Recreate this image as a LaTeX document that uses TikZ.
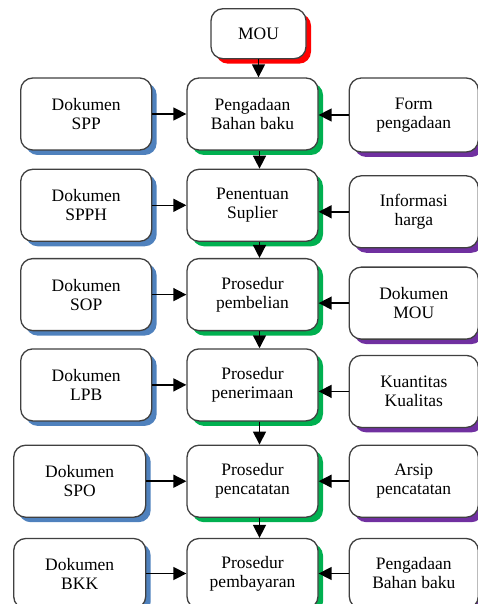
\documentclass[tikz,border=0pt]{standalone}
\usepackage{fontspec}
\setmainfont{Liberation Serif}
\usetikzlibrary{positioning,shadows,arrows.meta}

\definecolor{bayangmerah}{RGB}{255,0,0}
\definecolor{bayanghijau}{RGB}{0,176,80}
\definecolor{bayangbiru}{RGB}{79,129,189}
\definecolor{bayangungu}{RGB}{112,48,160}
\definecolor{garis}{RGB}{64,64,64}

\tikzset{
	kotak/.style={draw=garis, line width=1.3pt, rounded corners=12pt, fill=white,
		align=center, minimum width=131pt, minimum height=72pt, inner sep=0pt,
		font=\fontsize{17.5}{19}\selectfont},
	bayang/.style={drop shadow={shadow xshift=5pt, shadow yshift=-5pt, fill=#1, opacity=1}},
	panah/.style={line width=1.5pt, -{Triangle[length=13pt,width=13pt]}},
}

\begin{document}
\begin{tikzpicture}[x=1pt, y=-1pt]
		\useasboundingbox (0,0) rectangle (478,604);
		
		% kolom tengah
		\node[kotak, bayang=bayanghijau] (c1) at (252.5,114) {Pengadaan\\Bahan baku};
		\node[kotak, bayang=bayangmerah, minimum width=95pt, minimum height=50pt, above=18pt of c1, xshift=6pt] (m) {MOU};
		\node[kotak, bayang=bayanghijau, below=18pt of c1] (c2) {Penentuan\\Suplier};
		\node[kotak, bayang=bayanghijau, below=16pt of c2] (c3) {Prosedur\\pembelian};
		\node[kotak, bayang=bayanghijau, below=17pt of c3] (c4) {Prosedur\\penerimaan};
		\node[kotak, bayang=bayanghijau, below=23pt of c4] (c5) {Prosedur\\pencatatan};
		\node[kotak, bayang=bayanghijau, minimum height=70pt, below=20pt of c5] (c6) {Prosedur\\pembayaran};
		
		% kolom kiri
		\node[kotak, bayang=bayangbiru, left=34pt of c1] (l1) {Dokumen\\SPP};
		\node[kotak, bayang=bayangbiru, left=34pt of c2] (l2) {Dokumen\\SPPH};
		\node[kotak, bayang=bayangbiru, left=34pt of c3] (l3) {Dokumen\\SOP};
		\node[kotak, bayang=bayangbiru, left=34pt of c4] (l4) {Dokumen\\LPB};
		\node[kotak, bayang=bayangbiru, minimum width=132pt, left=40pt of c5] (l5) {Dokumen\\SPO};
		\node[kotak, bayang=bayangbiru, minimum width=132pt, minimum height=70pt, left=40pt of c6] (l6) {Dokumen\\BKK};
		
		% kolom kanan
		\node[kotak, bayang=bayangungu, minimum width=129pt, minimum height=74pt, right=30pt of c1, yshift=-1pt] (r1) {Form\\pengadaan};
		\node[kotak, bayang=bayangungu, minimum width=129pt, right=30pt of c2, yshift=-6.5pt] (r2) {Informasi\\harga};
		\node[kotak, bayang=bayangungu, minimum width=129pt, right=30pt of c3, yshift=-8.5pt] (r3) {Dokumen\\MOU};
		\node[kotak, bayang=bayangungu, minimum width=129pt, right=30pt of c4, yshift=-6.5pt] (r4) {Kuantitas\\Kualitas};
		\node[kotak, bayang=bayangungu, minimum width=129pt, right=30pt of c5] (r5) {Arsip\\pencatatan};
		\node[kotak, bayang=bayangungu, minimum width=129pt, minimum height=70pt, right=30pt of c6] (r6) {Pengadaan\\Bahan baku};
		
		% alur ke bawah
		\draw[panah] (m.south) -- (m.south |- c1.north);
		\draw[panah] ([xshift=7pt]c1.south) -- ([xshift=7pt]c2.north);
		\draw[panah] ([xshift=7pt]c2.south) -- ([xshift=7pt]c3.north);
		\draw[panah] ([xshift=7pt]c3.south) -- ([xshift=7pt]c4.north);
		\draw[panah] ([xshift=7pt]c4.south) -- ([xshift=7pt]c5.north);
		\draw[panah] ([xshift=7pt]c5.south) -- ([xshift=7pt]c6.north);
		
		% masukan kiri
		\draw[panah] (l1.east) -- (l1.east -| c1.west);
		\draw[panah] (l2.east) -- (l2.east -| c2.west);
		\draw[panah] (l3.east) -- (l3.east -| c3.west);
		\draw[panah] (l4.east) -- (l4.east -| c4.west);
		\draw[panah] (l5.east) -- (l5.east -| c5.west);
		\draw[panah] (l6.east) -- (l6.east -| c6.west);
		
		% masukan kanan
		\draw[panah] (r1.west) -- (r1.west -| c1.east);
		\draw[panah] (r2.west) -- (r2.west -| c2.east);
		\draw[panah] (r3.west) -- (r3.west -| c3.east);
		\draw[panah] (r4.west) -- (r4.west -| c4.east);
		\draw[panah] (r5.west) -- (r5.west -| c5.east);
		\draw[panah] (r6.west) -- (r6.west -| c6.east);
	\end{tikzpicture}
\end{document}
